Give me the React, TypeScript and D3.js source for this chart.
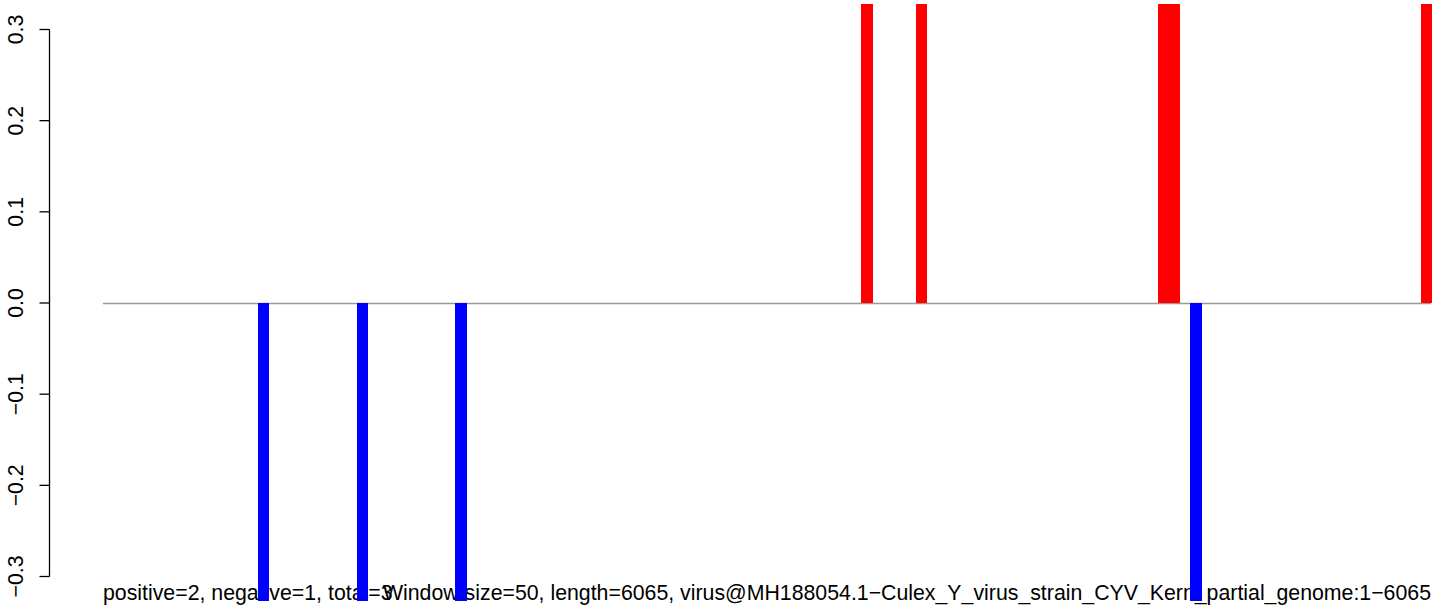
import React from "react";
import * as d3 from "d3";

const W = 1436;
const H = 613;

// genome / window info
const genomeLength = 6065;
const windowSize = 50;

// windows (index of 50-bp window) flagged positive / negative
const positiveWindows = [69, 74, 96, 97, 120];
const positiveValues = [1, 1, 1, 1, 1];
const negativeWindows = [14, 23, 32, 99];
const negativeValues = [-1, -1, -1, -1];

const yTicks = [-0.3, -0.2, -0.1, 0.0, 0.1, 0.2, 0.3];
const yTickLabels = ["\u22120.3", "\u22120.2", "\u22120.1", "0.0", "0.1", "0.2", "0.3"];

const leftText = "positive=2, negative=1, total=3";
const rightText =
  "Window size=50, length=6065, virus@MH188054.1\u2212Culex_Y_virus_strain_CYV_Kern_partial_genome:1\u22126065";

const baselineFrom = -7;
const baselineTo = 6046;

export default function App() {
  const x = d3.scaleLinear().domain([0, genomeLength]).range([104.4, 104.4 + (genomeLength * 10.97) / windowSize]);
  const y = d3.scaleLinear().domain([-0.3, 0.3]).range([576.5, 29.5]);
  const plotTop = 4;
  const plotBottom = 601;
  const axisX = 49.5;
  const fs = 21.3;

  const bars = [
    ...positiveWindows.map((w, i) => ({ w, v: positiveValues[i], color: "#FF0000" })),
    ...negativeWindows.map((w, i) => ({ w, v: negativeValues[i], color: "#0000FF" })),
  ];

  return (
    <svg width={W} height={H} style={{ position: "absolute", left: 0, top: 0, background: "#fff" }}
      fontFamily="'Liberation Sans', Arial, sans-serif">
      <defs>
        <clipPath id="plotclip">
          <rect x={0} y={plotTop} width={W} height={plotBottom - plotTop} />
        </clipPath>
      </defs>
      <text x={103} y={600} fontSize={fs} fill="#000">{leftText}</text>
      <text x={1431} y={600} fontSize={fs} textAnchor="end" fill="#000">{rightText}</text>
      <line x1={x(baselineFrom)} x2={x(baselineTo)} y1={y(0) + 0.5} y2={y(0) + 0.5} stroke="#999999" strokeWidth={1.5} />
      <g clipPath="url(#plotclip)" shapeRendering="crispEdges">
        {bars.map((b, i) => {
          const x0 = x(b.w * windowSize);
          const x1 = x((b.w + 1) * windowSize);
          const ya = y(b.v);
          const yb = y(0);
          return (
            <rect key={i} x={x0} width={x1 - x0 + 0.3} y={Math.min(ya, yb)} height={Math.abs(yb - ya)} fill={b.color} />
          );
        })}
      </g>
      <g>
        <line x1={axisX} x2={axisX} y1={y(-0.3)} y2={y(0.3)} stroke="#000" strokeWidth={1.3} />
        {yTicks.map((t, i) => (
          <g key={i}>
            <line x1={axisX - 10} x2={axisX} y1={y(t)} y2={y(t)} stroke="#000" strokeWidth={1.3} />
            <text transform={`translate(23,${y(t)}) rotate(-90)`} textAnchor="middle" fontSize={fs} fill="#000">
              {yTickLabels[i]}
            </text>
          </g>
        ))}
      </g>
    </svg>
  );
}
